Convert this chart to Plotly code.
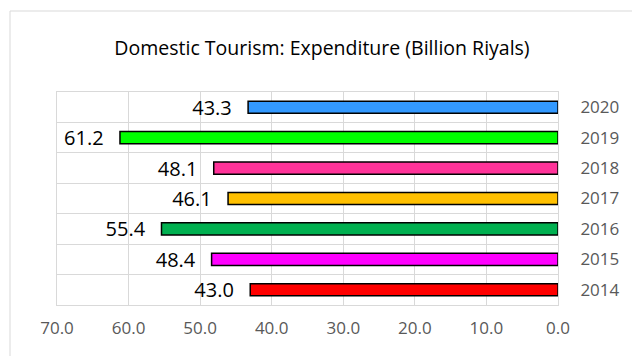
import plotly.graph_objects as go

years = ["2014", "2015", "2016", "2017", "2018", "2019", "2020"]
values = [43.0, 48.4, 55.4, 46.1, 48.1, 61.2, 43.3]
colors = ["#FF0000", "#FF00FF", "#00B050", "#FFC000", "#FF3399", "#00FF00", "#3399FF"]
title = "Domestic Tourism: Expenditure (Billion Riyals)"

FONT = "Open Sans"

fig = go.Figure()
fig.add_trace(go.Bar(
    x=values, y=years, orientation="h",
    marker=dict(color=colors, line=dict(color="#000000", width=1.5)),
    width=0.4,
    text=[f"{v:.1f}\u2002\u2009" for v in values],
    textposition="outside",
    constraintext="none",
    textfont=dict(family=FONT, size=20, color="#000000"),
    cliponaxis=False,
    hoverinfo="skip",
))

fig.update_layout(
    width=632, height=356,
    margin=dict(l=57, r=74, t=92, b=51),
    paper_bgcolor="white", plot_bgcolor="white",
    showlegend=False,
    title=dict(text=title, x=322/632, xref="container", xanchor="center",
               y=1 - 48/356, yref="container", yanchor="middle",
               font=dict(family=FONT, size=19.5, color="#000000")),
    xaxis=dict(range=[70, 0], dtick=10, tick0=0, tickformat=".1f",
               showgrid=True, gridcolor="#D9D9D9", gridwidth=1,
               showline=True, linecolor="#D9D9D9", linewidth=1, mirror=True,
               zeroline=False, ticks="", ticklabelstandoff=8,
               tickfont=dict(family=FONT, size=17, color="#595959")),
    yaxis=dict(type="category", side="right", tickson="boundaries",
               showgrid=True, gridcolor="#D9D9D9", gridwidth=1,
               showline=True, linecolor="#D9D9D9", linewidth=1, mirror=True,
               ticks="", ticklabelstandoff=18,
               tickfont=dict(family=FONT, size=17, color="#595959")),
    bargap=0.6,
    shapes=[dict(type="rect", xref="paper", yref="paper",
                 x0=(10-57)/501, x1=1.5, y0=-0.6, y1=1+(92-11)/213,
                 line=dict(color="#D9D9D9", width=1), fillcolor="rgba(0,0,0,0)", layer="below")],
)

fig.write_html("out.html")
